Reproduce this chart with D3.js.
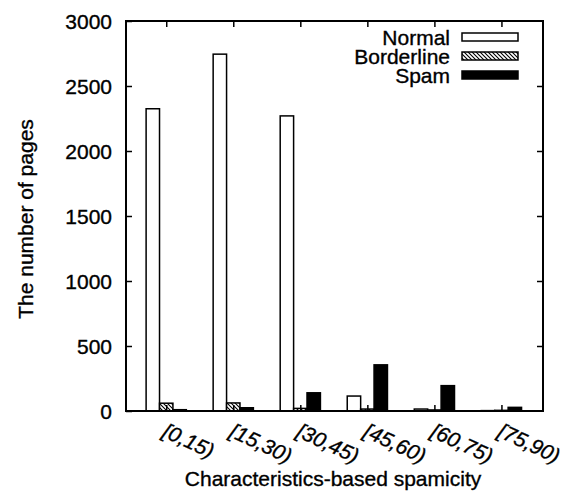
<!DOCTYPE html>
<html>
<head>
<meta charset="utf-8">
<script src="https://cdn.jsdelivr.net/npm/d3@7"></script>
<style>
  html, body { margin: 0; padding: 0; background: #fff; }
  svg { display: block; }
  text { font-family: "Liberation Sans", Arial, Helvetica, sans-serif; fill: #000; stroke: #000; stroke-width: 0.35px; }
</style>
</head>
<body>
<svg id="chart" width="570" height="496"></svg>
<script>
// Spamicity bins and page counts per class
const categories = ["[0,15)", "[15,30)", "[30,45)", "[45,60)", "[60,75)", "[75,90)"];
const seriesNames = ["Normal", "Borderline", "Spam"];
const normalCounts = [2325, 2745, 2270, 115, 15, 3];
const borderlineCounts = [60, 62, 20, 15, 8, 5];
const spamCounts = [10, 25, 140, 355, 195, 28];
const yTicks = [0, 500, 1000, 1500, 2000, 2500, 3000];

const seriesValues = [normalCounts, borderlineCounts, spamCounts];

const svg = d3.select("#chart");
const margin = { left: 126, right: 27, top: 21, bottom: 85 };
const W = 570, H = 496;
const x0 = margin.left, x1 = W - margin.right;
const y0 = H - margin.bottom, y1 = margin.top;

// Histogram-style positions: one unit per bin, bars 0.2 units wide
const x = d3.scaleLinear().domain([-0.6, 5.62]).range([x0, x1]);
const y = d3.scaleLinear().domain([0, 3000]).range([y0, y1]);
const barW = 0.2;
const offsets = [-barW, 0, barW];
const fontSize = "21px";

// Hatch pattern for the borderline class
const defs = svg.append("defs");
const pat = defs.append("pattern")
  .attr("id", "hatch")
  .attr("patternUnits", "userSpaceOnUse")
  .attr("width", 4).attr("height", 4);
pat.append("rect").attr("width", 4).attr("height", 4).attr("fill", "#fff");
pat.append("path").attr("d", "M-1,-1 L5,5 M-1,3 L1,5 M3,-1 L5,1")
  .attr("stroke", "#000").attr("stroke-width", 1.1);

const fills = ["#fff", "url(#hatch)", "#000"];

// Bars
seriesValues.forEach((vals, s) => {
  svg.append("g").selectAll("rect")
    .data(vals)
    .join("rect")
    .attr("x", (d, i) => x(i + offsets[s] - barW / 2))
    .attr("width", x(barW) - x(0))
    .attr("y", d => y(d))
    .attr("height", d => y(0) - y(d))
    .attr("fill", fills[s])
    .attr("stroke", "#000")
    .attr("stroke-width", 1.5);
});

// Frame
svg.append("rect")
  .attr("x", x0).attr("y", y1)
  .attr("width", x1 - x0).attr("height", y0 - y1)
  .attr("fill", "none").attr("stroke", "#000").attr("stroke-width", 2);

// Y axis (left, ticks inward) and mirrored ticks on the right
const yAxis = d3.axisLeft(y).tickValues(yTicks).tickSize(-6).tickPadding(14)
  .tickFormat(d3.format("d"));
const gy = svg.append("g").attr("transform", `translate(${x0},0)`).call(yAxis);
gy.select(".domain").remove();
gy.selectAll("line").attr("stroke-width", 1.5);
gy.selectAll("text").style("font-size", fontSize).attr("dy", "0.36em");

const gyr = svg.append("g").attr("transform", `translate(${x1},0)`)
  .call(d3.axisRight(y).tickValues(yTicks.slice(1, -1)).tickSize(-6).tickFormat(""));
gyr.select(".domain").remove();
gyr.selectAll("line").attr("stroke-width", 1.5);

// X axis: ticks at bin centres, mirrored on top, rotated labels below
const idx = d3.range(categories.length);
const gx = svg.append("g").attr("transform", `translate(0,${y0})`)
  .call(d3.axisBottom(x).tickValues(idx).tickSize(-6).tickFormat(""));
gx.select(".domain").remove();
gx.selectAll("line").attr("stroke-width", 1.5);

const gxt = svg.append("g").attr("transform", `translate(0,${y1})`)
  .call(d3.axisTop(x).tickValues(idx).tickSize(-6).tickFormat(""));
gxt.select(".domain").remove();
gxt.selectAll("line").attr("stroke-width", 1.5);

svg.append("g").selectAll("text")
  .data(categories)
  .join("text")
  .attr("transform", (d, i) => `translate(${x(i) - 5},${y0 + 25}) rotate(25)`)
  .style("font-size", fontSize)
  .style("font-style", "italic")
  .text(d => d);

// Axis titles
svg.append("text")
  .attr("x", 333).attr("y", 486)
  .attr("text-anchor", "middle")
  .style("font-size", fontSize)
  .text("Characteristics-based spamicity");

svg.append("text")
  .attr("transform", "translate(33,219) rotate(-90)")
  .attr("text-anchor", "middle")
  .style("font-size", fontSize)
  .text("The number of pages");

// Legend
const legend = svg.append("g");
seriesNames.forEach((name, s) => {
  const by = 45 + s * 19;
  legend.append("text")
    .attr("x", 450).attr("y", by)
    .attr("text-anchor", "end")
    .style("font-size", fontSize)
    .text(name);
  legend.append("rect")
    .attr("x", 462).attr("y", by - 12)
    .attr("width", 56).attr("height", 8)
    .attr("fill", fills[s])
    .attr("stroke", "#000").attr("stroke-width", 1.5);
});
</script>
</body>
</html>
